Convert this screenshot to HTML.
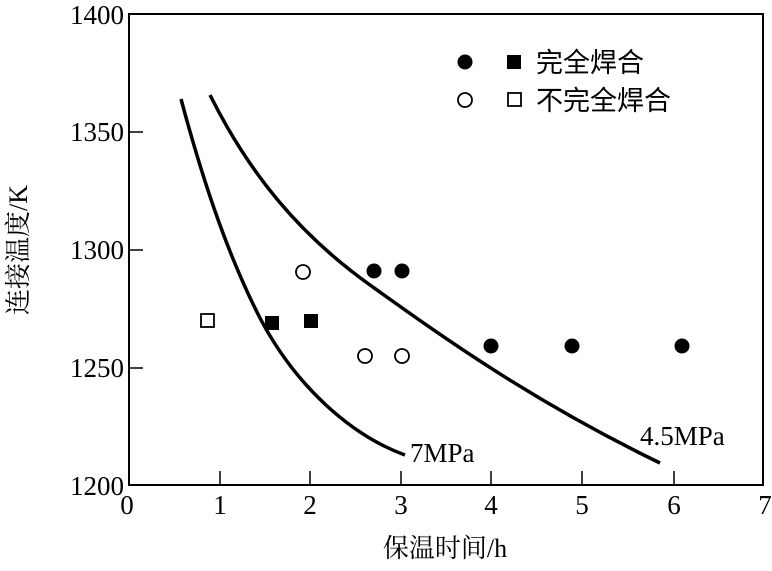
<!DOCTYPE html>
<html><head><meta charset="utf-8"><style>body{margin:0;background:#fff}</style></head><body>
<svg width="772" height="566" xmlns="http://www.w3.org/2000/svg" font-family="Liberation Serif, Noto Serif CJK SC, serif">
<rect x="129" y="14" width="634" height="471" fill="none" stroke="#000" stroke-width="2"/>
<g stroke="#000" stroke-width="1.5">
<line x1="220" y1="485" x2="220" y2="471"/><line x1="310" y1="485" x2="310" y2="471"/><line x1="401" y1="485" x2="401" y2="471"/><line x1="491" y1="485" x2="491" y2="471"/><line x1="582" y1="485" x2="582" y2="471"/><line x1="674" y1="485" x2="674" y2="471"/>
<line x1="129" y1="132" x2="143" y2="132"/><line x1="129" y1="250" x2="143" y2="250"/><line x1="129" y1="368" x2="143" y2="368"/>
</g>
<g font-size="27" text-anchor="middle">
<text x="127" y="514">0</text><text x="220" y="514">1</text><text x="310" y="514">2</text><text x="401" y="514">3</text><text x="491" y="514">4</text><text x="582" y="514">5</text><text x="674" y="514">6</text><text x="765" y="514">7</text>
</g>
<g font-size="27" text-anchor="end">
<text x="124" y="24">1400</text><text x="124" y="141">1350</text><text x="124" y="259">1300</text><text x="124" y="377">1250</text><text x="124" y="495">1200</text>
</g>
<text x="445" y="557" font-size="26" text-anchor="middle">保温时间/h</text>
<text transform="translate(27,250) rotate(-90)" font-size="26" text-anchor="middle">连接温度/K</text>
<g fill="none" stroke="#000" stroke-width="3.5">
<path d="M181,99 C200,170 225,250 260,318 C295,385 350,435 405,455"/>
<path d="M210,95 C250,175 300,235 370,285 C440,335 530,400 660,463"/>
</g>
<text x="410" y="462" font-size="27">7MPa</text>
<text x="640" y="445" font-size="27">4.5MPa</text>
<g fill="#000">
<circle cx="374" cy="271" r="7.5"/><circle cx="402" cy="271" r="7.5"/><circle cx="491" cy="346" r="7.5"/><circle cx="572" cy="346" r="7.5"/><circle cx="682" cy="346" r="7.5"/>
<rect x="265" y="316" width="14" height="14"/><rect x="304" y="314" width="14" height="14"/>
<circle cx="465" cy="62" r="7.5"/><rect x="507" y="55" width="14" height="14"/>
</g>
<g fill="none" stroke="#000" stroke-width="1.8">
<circle cx="303" cy="272" r="7"/><circle cx="365" cy="356" r="7"/><circle cx="402" cy="356" r="7"/>
<rect x="201" y="314" width="13" height="13"/>
<circle cx="465" cy="100" r="7"/><rect x="508" y="93" width="13" height="13"/>
</g>
<g font-size="27" font-family="Noto Sans CJK SC, sans-serif">
<text x="536" y="72">完全焊合</text><text x="536" y="110">不完全焊合</text>
</g>
</svg>
</body></html>
